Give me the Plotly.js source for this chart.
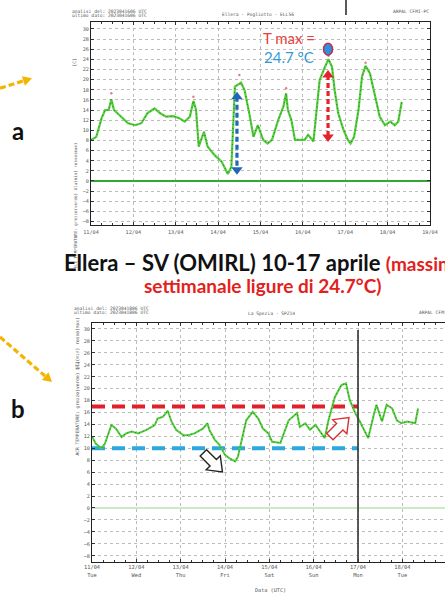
<!DOCTYPE html>
<html><head><meta charset="utf-8">
<script src="https://cdn.plot.ly/plotly-3.0.1.min.js"></script>
<style>html,body{margin:0;padding:0;background:#fff}#chart{width:445px;height:597px}</style>
</head><body><div id="chart"></div>
<script>
// ---------- DATA ----------
// Chart a: Ellera - temperature (°C)
const timesA = ['2023-04-11 00:00','2023-04-11 03:00','2023-04-11 06:00','2023-04-11 08:00','2023-04-11 10:00','2023-04-11 11:30','2023-04-11 13:00','2023-04-11 17:00','2023-04-11 21:00','2023-04-12 01:00','2023-04-12 04:30','2023-04-12 08:00','2023-04-12 12:00','2023-04-12 15:00','2023-04-12 18:30','2023-04-12 22:30','2023-04-13 02:00','2023-04-13 05:00','2023-04-13 08:00','2023-04-13 10:00','2023-04-13 11:30','2023-04-13 13:00','2023-04-13 16:00','2023-04-13 18:00','2023-04-13 22:00','2023-04-14 02:00','2023-04-14 05:30','2023-04-14 07:30','2023-04-14 09:30','2023-04-14 13:00','2023-04-14 15:00','2023-04-14 18:00','2023-04-14 20:00','2023-04-14 22:30','2023-04-15 01:30','2023-04-15 04:00','2023-04-15 06:30','2023-04-15 10:00','2023-04-15 13:00','2023-04-15 14:30','2023-04-15 15:30','2023-04-15 17:30','2023-04-15 19:30','2023-04-15 22:30','2023-04-16 01:00','2023-04-16 03:00','2023-04-16 06:00','2023-04-16 08:00','2023-04-16 09:30','2023-04-16 12:30','2023-04-16 14:30','2023-04-16 16:30','2023-04-16 18:00','2023-04-16 20:00','2023-04-16 23:00','2023-04-17 01:30','2023-04-17 03:00','2023-04-17 05:00','2023-04-17 07:30','2023-04-17 09:30','2023-04-17 11:30','2023-04-17 14:00','2023-04-17 17:00','2023-04-17 19:30','2023-04-17 22:30','2023-04-18 01:30','2023-04-18 04:00','2023-04-18 06:00','2023-04-18 08:00'];
const tempA = [8.1,8.7,12.4,14.0,14.0,16.1,14.0,12.7,11.4,11.0,11.4,13.4,14.3,13.4,12.7,12.8,12.4,11.7,12.7,15.8,14.0,6.8,9.7,6.8,5.1,3.8,1.4,2.8,18.6,19.4,17.9,12.7,8.7,11.0,8.1,7.4,8.1,12.0,14.7,17.3,14.0,12.0,8.1,8.1,8.1,9.1,7.8,14.7,19.9,22.5,24.0,22.5,17.9,13.4,10.1,8.1,7.4,8.7,14.0,20.6,22.7,21.2,16.6,12.7,11.0,11.7,11.0,11.7,15.6];
const peakTimesA = ['2023-04-11 11:30','2023-04-13 10:00','2023-04-14 12:00','2023-04-15 14:30','2023-04-16 14:30','2023-04-17 11:30'];
const peakMaxA = [17.3,16.6,20.9,18.3,24.7,23.3];
const tMax = 24.7;
const tMaxTime = '2023-04-16 14:15';
const swingRedY = [20.9, 8.7];
const swingBlueTime = '2023-04-14 10:40';
const swingBlueY = [16.6, 2.2];

// Chart b: La Spezia - temperature (°C)
const timesB = ['2023-04-11 00:00','2023-04-11 02:00','2023-04-11 05:00','2023-04-11 07:00','2023-04-11 10:30','2023-04-11 13:00','2023-04-11 16:00','2023-04-11 18:30','2023-04-11 21:30','2023-04-12 01:00','2023-04-12 05:30','2023-04-12 10:00','2023-04-12 11:30','2023-04-12 14:30','2023-04-12 17:00','2023-04-12 19:00','2023-04-12 21:30','2023-04-13 01:30','2023-04-13 04:00','2023-04-13 07:30','2023-04-13 12:00','2023-04-13 14:30','2023-04-13 15:30','2023-04-13 18:30','2023-04-13 21:00','2023-04-14 00:00','2023-04-14 02:30','2023-04-14 05:30','2023-04-14 07:00','2023-04-14 09:00','2023-04-14 11:30','2023-04-14 15:00','2023-04-14 18:00','2023-04-14 20:30','2023-04-14 23:30','2023-04-15 01:30','2023-04-15 06:00','2023-04-15 07:30','2023-04-15 10:30','2023-04-15 15:00','2023-04-15 16:30','2023-04-15 19:30','2023-04-15 22:00','2023-04-16 01:00','2023-04-16 03:30','2023-04-16 06:00','2023-04-16 08:00','2023-04-16 11:30','2023-04-16 15:00','2023-04-16 17:30','2023-04-16 19:30','2023-04-16 22:30','2023-04-17 01:00','2023-04-17 04:00','2023-04-17 05:30','2023-04-17 08:30','2023-04-17 10:00','2023-04-17 13:00','2023-04-17 15:30','2023-04-17 18:30','2023-04-17 21:00','2023-04-17 23:30','2023-04-18 02:30','2023-04-18 07:00','2023-04-18 08:30'];
const tempB = [12.0,10.8,10.0,10.8,13.9,13.3,11.9,12.5,12.8,12.5,13.1,13.9,15.0,15.3,16.3,14.5,13.1,12.2,12.2,12.5,13.3,14.2,13.1,11.4,10.6,8.9,8.3,7.8,8.6,11.4,14.7,16.1,15.0,13.3,12.5,11.1,10.9,12.2,14.7,15.9,13.6,14.2,13.1,13.9,12.8,11.7,14.7,18.6,20.6,20.9,18.1,15.9,14.5,12.8,11.7,15.6,17.3,14.5,17.3,16.7,14.7,14.2,14.5,14.2,16.7];
const refPeriod = ['2023-04-11 00:00','2023-04-17 00:00'];
const refHigh = [17, 17];
const refLow = [10, 10];
const cutTime = '2023-04-17 00:00';

// Axis labels
const dayTicks = ['2023-04-11','2023-04-12','2023-04-13','2023-04-14','2023-04-15','2023-04-16','2023-04-17','2023-04-18','2023-04-19'];
const dayLabels = ['11/04','12/04','13/04','14/04','15/04','16/04','17/04','18/04','19/04'];
const weekdayLabels = ['Tue','Wed','Thu','Fri','Sat','Sun','Mon','Tue','Wed'];

// ---------- HELPERS ----------
const W = 445, H = 597;
const PX = x => x / W, PY = y => 1 - y / H;
function paperPath(pts){ return 'M' + pts.map(p => PX(p[0]).toFixed(5) + ',' + PY(p[1]).toFixed(5)).join(' L') + ' Z'; }
function headPts(tip, from, L, w){
  const dx = tip[0]-from[0], dy = tip[1]-from[1], n = Math.hypot(dx,dy);
  const ux = dx/n, uy = dy/n, bx = tip[0]-ux*L, by = tip[1]-uy*L;
  return [tip, [bx - uy*w, by + ux*w], [bx + uy*w, by - ux*w]];
}
function hollowArrow(angleDeg){
  const pts = [[-13,-4.5],[1,-4.5],[1,-10],[14,0],[1,10],[1,4.5],[-13,4.5]];
  const a = angleDeg*Math.PI/180, c = Math.cos(a), s = Math.sin(a);
  return 'M' + pts.map(p => (p[0]*c - p[1]*s).toFixed(2) + ',' + (p[0]*s + p[1]*c).toFixed(2)).join(' L') + ' Z';
}

const GREEN = '#52d03c';
const tickFont = {family:'DejaVu Sans Mono', size:5.2, color:'#555'};
const tinyFont = {family:'DejaVu Sans Mono', size:4.6, color:'#555'};

// ---------- TRACES ----------
const traces = [
  {x: timesA, y: tempA, xaxis:'x', yaxis:'y', mode:'lines', line:{color:GREEN, width:2.2}, hoverinfo:'skip'},
  {x: timesA, y: tempA, xaxis:'x', yaxis:'y', mode:'lines', line:{color:'rgba(40,40,40,0.75)', width:0.8, dash:'1px,3px'}, hoverinfo:'skip'},
  {x: peakTimesA, y: peakMaxA, xaxis:'x', yaxis:'y', mode:'markers', marker:{color:'#e58080', size:2.5}, hoverinfo:'skip'},
  {x: [tMaxTime, tMaxTime], y: swingRedY, xaxis:'x', yaxis:'y', mode:'lines+markers',
   line:{color:'#e3242b', width:3.2, dash:'5px,3px'}, marker:{color:'#e3242b', size:10, symbol:['triangle-up','triangle-down']}},
  {x: [swingBlueTime, swingBlueTime], y: swingBlueY, xaxis:'x', yaxis:'y', mode:'lines+markers',
   line:{color:'#2166b8', width:3.2, dash:'5px,3px'}, marker:{color:'#2166b8', size:10, symbol:['triangle-up','triangle-down']}},

  {x: refPeriod, y: refHigh, xaxis:'x2', yaxis:'y2', mode:'lines', line:{color:'#e0202a', width:4, dash:'13px,7px'}},
  {x: refPeriod, y: refLow, xaxis:'x2', yaxis:'y2', mode:'lines', line:{color:'#2ba8e0', width:4, dash:'13px,7px'}},
  {x: timesB, y: tempB, xaxis:'x2', yaxis:'y2', mode:'lines', line:{color:GREEN, width:2.0}, hoverinfo:'skip'},
  {x: timesB, y: tempB, xaxis:'x2', yaxis:'y2', mode:'lines', line:{color:'rgba(40,40,40,0.75)', width:0.8, dash:'1px,3px'}, hoverinfo:'skip'}
];

// ---------- LAYOUT ----------
const axX = {
  type:'date', tickvals: dayTicks, tickfont: tickFont, showgrid:true, gridcolor:'#bcbcbc', griddash:'dot', gridwidth:1,
  showline:true, linecolor:'#222', linewidth:1, mirror:'allticks', ticks:'inside', ticklen:3, tickcolor:'#333', zeroline:false,
  minor:{ticks:'inside', ticklen:2, dtick:6*3600*1000, tickcolor:'#333', showgrid:false}
};
const axY = {
  tickmode:'linear', tick0:0, dtick:2, tickfont: tickFont, showgrid:true, gridcolor:'#bcbcbc', griddash:'dot', gridwidth:1,
  showline:true, linecolor:'#222', linewidth:1, ticks:'inside', ticklen:3, tickcolor:'#333', zeroline:true
};

const layout = {
  width: W, height: H, margin:{l:0, r:0, t:0, b:0}, paper_bgcolor:'#fff', plot_bgcolor:'#fff', showlegend:false,
  xaxis: Object.assign({}, axX, {domain:[91/W, 430/W], anchor:'y', range:['2023-04-11 00:00','2023-04-19 00:00'], ticktext: dayLabels, ticklabelstandoff:2}),
  yaxis: Object.assign({}, axY, {domain:[PY(225), PY(22)], anchor:'x', range:[-8.68, 31.36], mirror:'allticks', zerolinecolor:'#34a834', zerolinewidth:1.5}),
  xaxis2: Object.assign({}, axX, {domain:[92/W, 1], anchor:'y2', range:['2023-04-11 00:00','2023-04-18 23:06'], ticktext: dayLabels.map((d,i)=> d + '<br>' + weekdayLabels[i]), tickfont:{family:'DejaVu Sans Mono', size:5.4, color:'#555'}}),
  yaxis2: Object.assign({}, axY, {domain:[PY(562), PY(323)], anchor:'x2', range:[-9.05, 31.0], mirror:false, zerolinecolor:'#c9edc0', zerolinewidth:1.2}),
  shapes: [
    // Tmax marker
    {type:'circle', xref:'x', yref:'y', xsizemode:'pixel', ysizemode:'pixel', xanchor:tMaxTime, yanchor:26.0,
     x0:-4.5, x1:4.5, y0:-6, y1:6, fillcolor:'#2f8fe0', line:{color:'#c0304a', width:1.5}},
    // cut line in chart b
    {type:'line', xref:'x2', yref:'y2 domain', x0:cutTime, x1:cutTime, y0:0, y1:0.971, line:{color:'#333', width:1.6}},
    // hollow arrows
    {type:'path', xref:'x2', yref:'y2', xsizemode:'pixel', ysizemode:'pixel', xanchor:'2023-04-13 17:15', yanchor:7.7,
     path: hollowArrow(-45), fillcolor:'#fff', line:{color:'#222', width:1.4}},
    {type:'path', xref:'x2', yref:'y2', xsizemode:'pixel', ysizemode:'pixel', xanchor:'2023-04-16 13:45', yanchor:13.5,
     path: hollowArrow(45), fillcolor:'#fff', line:{color:'#d83030', width:1.4}},
    // yellow pointers
    {type:'line', xref:'paper', yref:'paper', x0:PX(0), y0:PY(88.3), x1:PX(25), y1:PY(80.4), line:{color:'#f4b400', width:3.2, dash:'6px,3px'}},
    {type:'path', xref:'paper', yref:'paper', path: paperPath(headPts([32,78.2],[0,88.3],9,5)), fillcolor:'#f4b400', line:{width:0}},
    {type:'line', xref:'paper', yref:'paper', x0:PX(0), y0:PY(337), x1:PX(45), y1:PY(376), line:{color:'#f4b400', width:3.2, dash:'6px,3px'}},
    {type:'path', xref:'paper', yref:'paper', path: paperPath(headPts([52,382],[0,337],9,5)), fillcolor:'#f4b400', line:{width:0}},
    // small black stroke at top
    {type:'line', xref:'paper', yref:'paper', x0:PX(346), x1:PX(346), y0:PY(0), y1:PY(15), line:{color:'#222', width:1.5}}
  ],
  annotations: [
    // chart a headers
    {xref:'paper', yref:'paper', x:PX(70), y:PY(11), xanchor:'left', yanchor:'middle', showarrow:false, text:'analisi del: 2023041606 UTC', font:tinyFont},
    {xref:'paper', yref:'paper', x:PX(70), y:PY(15.5), xanchor:'left', yanchor:'middle', showarrow:false, text:'ultimo dato: 2023041606 UTC', font:tinyFont},
    {xref:'paper', yref:'paper', x:PX(258), y:PY(15), xanchor:'center', yanchor:'middle', showarrow:false, text:'Ellera - Pogliotto - ELL56', font:tinyFont},
    {xref:'paper', yref:'paper', x:PX(431), y:PY(12), xanchor:'right', yanchor:'middle', showarrow:false, text:'ARPAL CFMI-PC', font:tinyFont},
    {xref:'paper', yref:'paper', x:PX(70), y:PY(57), textangle:-90, showarrow:false, text:'[C]', font:tinyFont},
    {xref:'paper', yref:'paper', x:PX(70), y:PY(141), textangle:-90, showarrow:false, text:'ELE TEMPERATURE: grezzo(verde) blu(min) rosso(max)', font:{family:'DejaVu Sans Mono', size:4.2, color:'#555'}},
    // T max label
    {xref:'paper', yref:'paper', x:PX(289), y:PY(38), xanchor:'center', yanchor:'middle', showarrow:false, text:'T max =', font:{family:'Lato', size:15, color:'#e8413a'}},
    {xref:'paper', yref:'paper', x:PX(289), y:PY(57), xanchor:'center', yanchor:'middle', showarrow:false, text: tMax.toFixed(1) + ' °C', font:{family:'Lato', size:15, color:'#3399d6'}},
    // middle caption
    {xref:'paper', yref:'paper', x:PX(62), y:PY(262), xanchor:'left', yanchor:'middle', showarrow:false,
     text:'<b>Ellera – SV (OMIRL) 10-17 aprile </b><b><span style="color:#e3211c;font-size:19px">(massima</span></b>', font:{family:'Lato', size:22, color:'#111'}},
    {xref:'paper', yref:'paper', x:PX(262), y:PY(285), xanchor:'center', yanchor:'middle', showarrow:false,
     text:'<b>settimanale ligure di ' + tMax.toFixed(1) + '°C)</b>', font:{family:'Lato', size:19, color:'#e3211c'}},
    // panel letters
    {xref:'paper', yref:'paper', x:PX(18), y:PY(130), xanchor:'center', yanchor:'middle', showarrow:false, text:'<b>a</b>', font:{family:'Lato', size:24, color:'#111'}},
    {xref:'paper', yref:'paper', x:PX(18), y:PY(408), xanchor:'center', yanchor:'middle', showarrow:false, text:'<b>b</b>', font:{family:'Lato', size:24, color:'#111'}},
    // chart b headers
    {xref:'paper', yref:'paper', x:PX(72), y:PY(308), xanchor:'left', yanchor:'middle', showarrow:false, text:'analisi del: 2023041806 UTC', font:tinyFont},
    {xref:'paper', yref:'paper', x:PX(72), y:PY(312.5), xanchor:'left', yanchor:'middle', showarrow:false, text:'ultimo dato: 2023041806 UTC', font:tinyFont},
    {xref:'paper', yref:'paper', x:PX(271), y:PY(313), xanchor:'center', yanchor:'middle', showarrow:false, text:'La Spezia - SPZ14', font:tinyFont},
    {xref:'paper', yref:'paper', x:PX(417), y:PY(312), xanchor:'left', yanchor:'middle', showarrow:false, text:'ARPAL CFMI-PC', font:tinyFont},
    {xref:'paper', yref:'paper', x:PX(72), y:PY(366), textangle:-90, showarrow:false, text:'[C]', font:tinyFont},
    {xref:'paper', yref:'paper', x:PX(72), y:PY(458), textangle:-90, showarrow:false, text:'ACR TEMPERATURE: grezzo(verde) blu(min) rosso(max)', font:{family:'DejaVu Sans Mono', size:4.6, color:'#555'}},
    {xref:'paper', yref:'paper', x:PX(270), y:PY(590), xanchor:'center', yanchor:'middle', showarrow:false, text:'Data (UTC)', font:{family:'DejaVu Sans Mono', size:5.2, color:'#555'}}
  ]
};

Plotly.newPlot('chart', traces, layout, {staticPlot:true, displayModeBar:false});
</script>
</body></html>
